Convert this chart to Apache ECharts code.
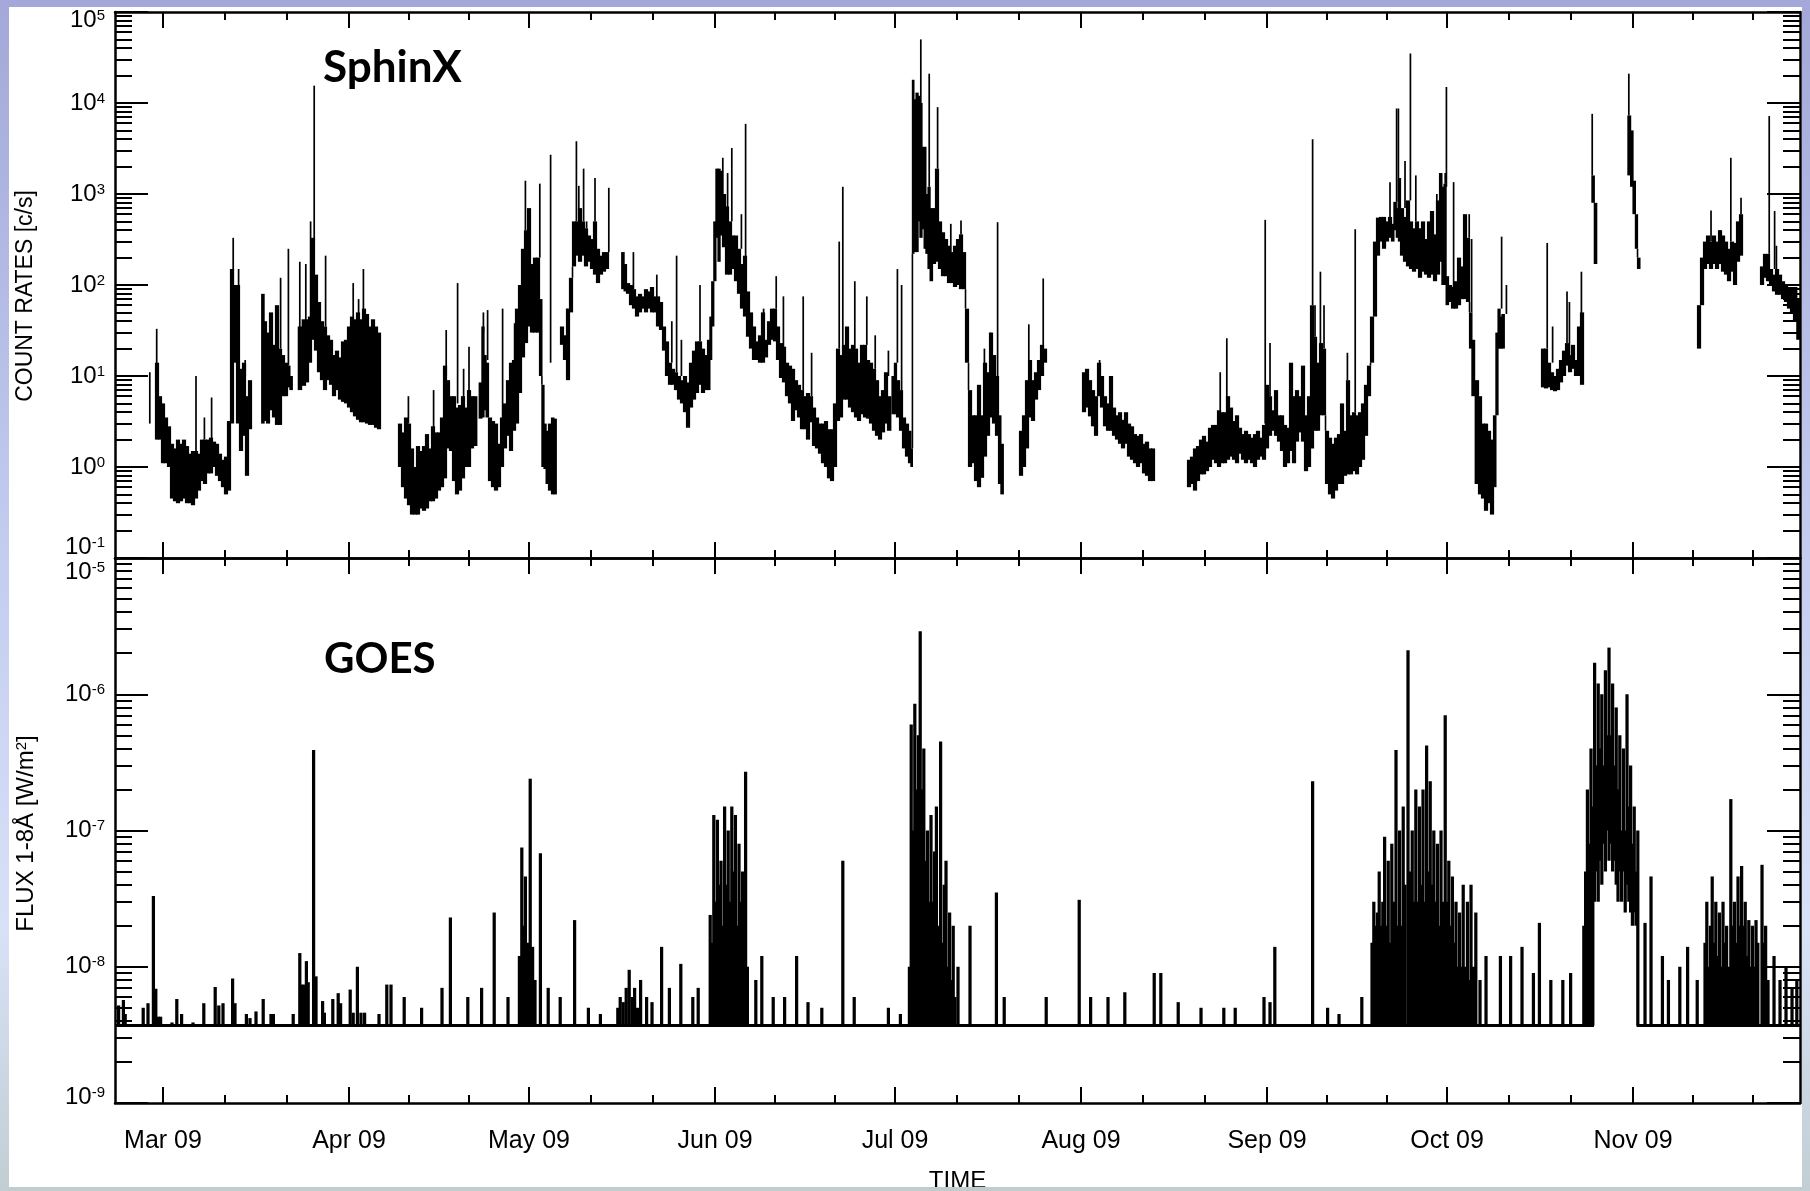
<!DOCTYPE html>
<html><head><meta charset="utf-8">
<script src="https://cdn.jsdelivr.net/npm/echarts@6/dist/echarts.min.js"></script>
<style>html,body{margin:0;padding:0;background:#fff;}#c{width:1810px;height:1191px;}</style>
</head><body><div id="c"></div>
<script>
// ---------- axis / tick data ----------
const monthStarts = [0, 31, 61, 92, 122, 153, 184, 214, 245];      // days after 2009-03-01
const monthLengths = [31, 30, 31, 30, 31, 31, 30, 31, 30];
const monthLabels = ['Mar 09', 'Apr 09', 'May 09', 'Jun 09', 'Jul 09', 'Aug 09', 'Sep 09', 'Oct 09', 'Nov 09'];
const xMin = -8, xMax = 272.83;
const sphMin = 0.1, sphMax = 1e5;
const goesMin = 1e-9, goesMax = 1e-5;

// ---------- SphinX count-rate envelope: [day, low, high] ----------
const sphA = [[-1,2.0,14],[-0.5,2.0,6],[0,1.1,5],[0.5,1.1,3.5],[1,1.0,2.8],[1.5,0.45,1.8],[2,0.42,1.6],[2.5,0.40,2.0],[3,0.42,1.8],[3.5,0.45,2.0],[4,0.40,1.7],[4.5,0.40,1.4],[5,0.38,1.5],[5.5,0.45,1.5],[6,0.55,1.4],[6.5,0.7,2.0],[7,0.65,2.0],[7.5,0.85,2.0],[8,0.85,2.1],[8.5,1.0,1.9],[9,0.8,1.8],[9.5,0.7,1.4],[10,0.6,1.2],[10.5,0.5,1.3],[11,0.55,3.2],[11.5,3,150],[12,14,100],[12.5,3,100],[13,1.5,12],[13.5,2.2,14],[14,0.8,6],[14.5,2.6,9]];
const sphB = [[16.7,3,80],[17,3.2,40],[17.5,3,30],[18,4.2,50],[18.5,3.5,22],[19,2.9,60],[19.5,2.9,20],[20,6,17],[20.5,6,14],[21,7.5,13],[21.3,7,10]];
const sphC = [[22.8,7,35],[23.5,7.8,42],[24,8.5,42],[24.5,14,45],[25,25,330],[25.5,19,130],[26,11,65],[26.5,9,40],[27,7,35],[27.5,9,28],[28,8,25],[28.5,6,17],[29,7,19],[29.5,5.5,16],[30,5.2,24],[30.5,5,25],[31,4.5,35],[31.5,4,45],[32,3.6,42],[32.5,3.3,50],[33,3.1,42],[33.5,3.1,55],[34,3,48],[34.5,2.9,35],[35,2.9,42],[35.5,2.7,35],[36,2.6,30]];
const sphD = [[39.5,1.0,3],[40,0.6,2.4],[40.5,0.45,3.5],[41,0.38,3],[41.5,0.30,1.6],[42,0.30,1.0],[42.5,0.30,1.7],[43,0.35,1.5],[43.5,0.33,1.7],[44,0.35,2.3],[44.5,0.42,1.6],[45,0.42,2.8],[45.5,0.45,2.4],[46,0.55,2.4],[46.5,0.6,3.5],[47,0.75,13],[47.5,1.6,9],[48,1.5,6],[48.5,0.7,6],[49,0.5,4.5],[49.5,0.55,4.8],[50,0.75,6],[50.5,1.0,4.5],[51,1.0,7],[51.5,1.6,6],[52,1.7,6],[53,3.4,8.5],[53.3,3.5,35],[53.7,4.2,17],[54,3.5,14],[54.5,0.7,3.5],[55,0.6,3.2],[55.5,0.55,3],[56,0.6,1.8],[56.5,1.0,3.5],[57,1.6,5],[57.5,2.2,9],[58,1.5,14],[58.5,2.5,15],[59,3,55],[59.5,6.5,100],[60,16,250],[60.5,23,400],[61,35,700],[61.5,30,170],[62,30,200],[62.5,30,200],[63,10,70],[63.3,1.0,8],[63.7,0.95,3],[64,0.65,2.5],[64.5,0.55,3],[65,0.5,3.5],[65.3,0.5,3.4]];
const sphE = [[66.5,22,35],[67,15,28],[67.5,9,55],[68,50,120],[68.5,160,500],[69,210,500],[69.5,180,700],[70,210,500],[70.5,160,420],[71,180,350],[71.5,150,320],[72,130,500],[72.5,105,250],[73,130,210],[73.5,140,230],[74,150,230]];
const sphF = [[76.7,90,230],[77,85,170],[77.5,80,105],[78,60,100],[78.5,55,90],[79,45,75],[79.5,50,80],[80,55,75],[80.5,50,90],[81,55,85],[81.5,50,95],[82,50,75],[82.5,35,75],[83,32,65],[83.5,19,35],[84,10,24],[84.5,8,14],[85,8,12],[85.5,7,11],[86,5.5,10],[86.5,5,9],[87,4,10],[87.5,2.7,8.5],[88,4.5,14],[88.5,5.5,19],[89,6.5,24],[89.5,8,24],[90,6.5,20],[90.5,7,17],[91,7,25],[91.3,15,45],[91.6,35,110],[92,110,500],[92.3,330,1900],[92.7,180,1900],[93,350,1800],[93.5,260,1000],[94,130,730],[94.5,130,500],[95,150,350],[95.5,110,350],[96,80,250],[96.5,55,170],[97,45,210],[97.5,27,85],[98,20,50],[98.5,15,35],[99,15,24],[99.5,14,28],[100,14,50],[100.5,16,25],[101,22,40],[101.5,25,55],[102,24,55],[102.5,15,35],[103,9.5,23],[103.5,8.5,21],[104,6,14],[104.5,5,13],[105,3.2,12],[105.5,4.2,9],[106,3.5,8],[106.5,2.6,7],[107,2.6,6],[107.5,2.0,6.5],[108,3.1,6],[108.5,1.7,4.5],[109,1.6,3.5],[109.5,1.4,3],[110,1.1,3],[110.5,1.0,3.2],[111,0.75,2.6],[111.5,0.7,2.6],[112,1.0,5],[112.5,3.2,20],[113,3.5,17],[113.5,5.5,22],[114,5.5,35],[114.5,4.5,20],[115,4,22],[115.5,3.5,20],[116,3.2,14],[116.5,3.8,22],[117,3.5,22],[117.5,3.4,15],[118,3,14],[118.5,2.5,12],[119,2.2,9],[119.5,2.0,6],[120,2.4,7],[120.5,3.0,11],[121,2.5,6],[121.8,3.8,10],[122,3.8,14],[122.5,3.5,9],[123,2.5,7],[123.5,1.6,3.5],[124,1.3,3],[124.5,1.1,2.5],[124.8,1.0,1.6],[125,220,18000],[125.3,230,11000],[125.7,230,13000],[126,500,12000],[126.3,330,10000],[126.7,410,3300],[127,250,3300],[127.3,220,1000],[127.7,150,1200],[128,110,700],[128.5,170,700],[129,180,1900],[129.5,150,500],[130,125,380],[130.5,125,320],[131,105,270],[131.5,105,230],[132,95,270],[132.5,100,320],[133,90,360],[133.5,90,230],[134,14,55],[134.5,1.0,7],[135,1.1,3.7],[135.5,0.7,3.7],[136,0.6,8],[136.5,0.76,3.7],[137,1.3,14],[137.5,2.2,11],[138,3.5,30],[138.5,3,17],[139,2.2,10],[139.5,0.65,3.7],[139.8,0.5,1.8]];
const sphG = [[143,0.8,2.5],[143.5,1.0,3.7],[144,1.6,9],[144.5,3.5,15],[145,3.2,9],[145.5,5.5,11],[146,7,15],[146.5,10,22],[147,14,20]];
const sphH = [[153.5,4,11],[154,4.5,12],[154.5,3.6,9],[155,2.8,7],[155.5,2.2,6],[156,6,14],[156.5,4.5,10],[157,2.8,6],[157.5,2.5,5],[158,2.5,10],[158.5,2.2,4.5],[159,2,3.7],[159.5,1.8,4],[160,1.6,3.3],[160.5,1.8,4],[161,1.3,3],[161.5,1.2,2.8],[162,1.1,2.3],[162.5,1.0,2.2],[163,1.1,2.3],[163.5,0.85,1.8],[164,0.8,1.9],[164.5,0.7,1.6],[165,0.7,1.6]];
const sphI = [[171,0.6,1.2],[171.5,0.65,1.3],[172,0.55,1.6],[172.5,0.7,1.7],[173,0.83,2],[173.5,0.83,2.2],[174,0.9,1.9],[174.5,1.0,2.7],[175,1.2,2.9],[175.5,1.1,2.9],[176,1.0,4.2],[176.5,1.1,4],[177,1.1,4],[177.5,1.2,6],[178,1.3,4.5],[178.5,1.2,3.2],[179,1.1,3.7],[179.5,1.4,2.7],[180,1.2,2.3],[180.5,1.1,2.5],[181,1.2,2.3],[181.5,1.1,2.1],[182,1.0,2.3],[182.5,1.2,2.5],[183,1.3,2.1],[183.5,1.2,2.9],[184,1.6,8],[184.5,2.2,6],[185,2.5,4.2],[185.5,2.2,7],[186,1.9,3.7],[186.5,1.5,3.7],[187,1.0,2.9],[187.5,1.1,2.7],[188,1.5,14],[188.5,1.1,6],[189,1.9,7],[189.5,2.4,6],[190,1.9,13],[190.5,0.9,3.7],[191,1.0,6],[191.5,1.6,60],[192,2.5,27],[192.5,2.5,14],[193,3.7,23],[193.5,3.7,20],[194,0.65,2.5],[194.5,0.5,2.1],[195,0.45,1.8],[195.5,0.55,2.1],[196,0.65,2.3],[196.5,0.65,5],[197,0.8,2.5],[197.5,0.83,9],[198,0.83,3.7],[198.5,0.9,4],[199,0.83,3.7],[199.5,1.0,4],[200,1.2,5],[200.5,2.2,8],[201,6,13],[201.5,14,45],[202,45,300],[202.5,210,550],[203,300,560],[203.5,250,560],[204,300,500],[204.5,330,560],[205,300,470],[205.3,400,820],[205.8,330,700],[206,300,1500],[206.5,210,700],[207,180,560],[207.5,160,850],[208,150,500],[208.5,140,420],[209,150,500],[209.5,120,420],[210,140,500],[210.5,130,320],[211,120,500],[211.5,130,650],[212,110,360],[212.5,130,850],[213,180,1700],[213.3,100,1200],[213.7,100,1300],[214,60,125],[214.5,65,100],[215,55,95],[215.5,55,110],[216,60,200],[216.5,70,160],[217,70,600],[217.5,65,330],[218,20,50],[218.3,6,25],[219,0.65,9],[219.5,0.5,6],[220,0.45,3],[220.5,0.33,3],[221,0.4,2.5],[221.5,0.3,2],[222,0.6,3.7],[222.3,3.7,30],[222.7,20,55],[223,20,45],[223.3,20,48]];
const sphJ = [[230,7.5,20],[230.5,7.3,20],[231,7.5,14],[231.5,7,11],[232,6.8,10],[232.5,7,12],[233,8.5,15],[233.5,10,19],[234,13,23],[234.5,11,17],[235,12,22],[235.5,10,15],[236,10,35],[236.5,8,50]];
const sphK = [[238.4,800,1600],[238.7,170,800]];
const sphL = [[244.4,1600,7300],[244.8,1200,5000],[245.2,600,1400],[245.6,250,600],[245.9,150,200]];
const sphM = [[256,20,60],[256.5,60,200],[257,150,300],[257.5,170,350],[258,150,300],[258.5,170,350],[259,150,300],[259.5,170,400],[260,140,350],[260.5,130,300],[261,110,250],[261.5,140,300],[262,100,290],[262.5,180,500],[263,210,600]];
const sphN = [[266.5,100,160],[267,120,220],[267.5,110,220],[268,100,150],[268.5,85,130],[269,78,150],[269.5,78,130],[270,70,110],[270.5,65,100],[271,55,95],[271.5,50,95],[272,40,95],[272.6,25,70]];

// ---------- SphinX flare spikes: [day, from, peak] ----------
const sphSpikes = [[-2.2,3,11],[-1.05,8,33],[5.5,1.5,10],[6.9,2,3.5],[8.1,2,5.8],[11.7,100,330],[12.6,90,150],[13.7,10,15],[19.6,20,120],[20.9,13,250],[22.8,30,180],[23.8,40,170],[24.6,40,500],[25.2,300,15500],[27.1,35,210],[31.7,40,105],[32.6,40,70],[33.4,40,150],[40.9,3,6],[45.1,2.5,7],[47.2,10,32],[49.1,5,105],[50.1,5,12],[51,6,21],[53.4,30,50],[54.1,15,53],[56.6,3,55],[58.6,14,38],[60.4,400,1400],[62.8,200,1300],[64.6,14,2700],[67.4,30,55],[68.9,500,3800],[69.3,500,1230],[70.1,500,1900],[70.6,420,500],[72,500,1500],[74.3,230,1170],[78.4,90,230],[82.3,70,130],[84.8,14,40],[85.6,11,210],[86.4,10,25],[89.5,24,100],[93.3,1000,2500],[94.1,700,1700],[94.8,500,3200],[96.4,250,600],[97.1,200,5900],[100.1,40,55],[102.2,55,125],[103.4,20,75],[106.7,7,75],[108.1,6,18],[112.7,20,300],[113.3,17,1200],[115.3,20,110],[117.3,22,75],[118.7,12,28],[120.9,10,19],[122.4,14,150],[123.1,7,100],[126.3,10000,50000],[127.7,1200,21000],[129.1,1900,9000],[131.3,230,470],[133,360,510],[136.9,8,20],[137.9,10,30],[139.1,10,490],[144.3,15,37],[146.7,20,118],[156.1,10,15],[158.1,6,10],[176.2,4,11],[177.3,4,26],[183.7,3,520],[184.5,6,23],[191.6,60,4000],[192,27,60],[192.9,14,140],[193.5,20,60],[197.4,9,18],[198.7,4,410],[204.5,560,1350],[205.6,820,8700],[205.9,700,8700],[207,700,2300],[207.9,850,35000],[208.8,500,1600],[212.3,360,1000],[213.7,1300,1700],[213.9,1200,15000],[215.1,95,1350],[216.9,160,300],[217.7,330,600],[218.1,50,320],[223.1,55,340],[223.9,48,100],[230.7,20,290],[231.6,14,35],[234,23,85],[234.4,17,65],[236.4,35,140],[238.2,1600,7600],[244.3,7300,21000],[258,300,660],[259.5,350,400],[261.3,300,2500],[263,600,910],[267.7,220,7200],[268.6,150,650],[268.9,150,270]];

// ---------- GOES 1-8 A flux: [day, peak, low(optional, default = floor)] ----------
const goesFloor = 3.7e-9;
const goesFloorSpans = [[-8, 238.5], [245.6, 272.83]];
const goesMar = [[-7.4,5.2e-9],[-6.6,5.7e-9],[-6.3,4.5e-9],[-3.3,5e-9],[-2.5,5.4e-9],[-1.6,3.3e-8],[-1.2,6.9e-9],[-0.8,4.3e-9],[-0.4,4.3e-9],[1.5,3.9e-9],[2.3,5.8e-9],[3.1,4.5e-9],[5.0,3.9e-9],[6.8,5.4e-9],[8.7,7.1e-9],[9.3,5.2e-9],[10,5.4e-9],[11.6,8.2e-9],[12.0,5.4e-9],[13.9,4.5e-9],[14.5,4.2e-9],[15.5,4.7e-9],[16.7,5.8e-9],[18,4.5e-9],[18.4,4.5e-9],[21.7,4.5e-9],[22.8,1.26e-8],[23.1,7.4e-9],[23.5,7.4e-9],[23.9,1.1e-8],[24.2,7.7e-9],[25.1,3.9e-7],[25.5,8.5e-9],[26.6,5.6e-9],[26.9,4.6e-9],[28.3,5.8e-9],[29.2,6.4e-9],[29.6,5.4e-9]];
const goesApr = [[31.2,6.8e-9],[31.7,4.6e-9],[32.4,1e-8],[33,4.6e-9],[33.6,4.6e-9],[36,4.5e-9],[37.3,7.4e-9],[38,7.4e-9],[40.2,6e-9],[43.1,5e-9],[46.5,7e-9],[47.9,2.3e-8],[50.8,6e-9],[53.1,7e-9],[55.2,2.5e-8],[57.5,6e-9],[59.4,1.2e-8],[59.8,7.5e-8],[60.1,2e-8],[60.4,4.6e-8],[60.8,1.5e-8]];
const goesMay = [[61.2,2.4e-7],[61.6,1.4e-8],[62.0,8e-9],[62.9,6.8e-8],[64.2,7e-9],[66.2,6e-9],[68.6,2.2e-8],[70.9,5e-9],[72.9,4.5e-9],[75.8,5e-9],[76.2,6e-9],[76.7,5.5e-9],[77.2,7e-9],[77.7,9.5e-9],[78.2,6e-9],[78.6,7e-9],[79.1,5e-9],[79.6,8e-9],[80.6,6e-9],[81.5,5.5e-9],[83.1,1.4e-8],[84.4,7e-9],[86.3,1.05e-8],[88.3,6e-9],[89.2,7e-9]];
const goesJun = [[91.2,2.4e-8],[91.5,1.5e-8],[91.8,1.3e-7],[92.1,3e-8],[92.4,1.2e-7],[92.7,4e-8],[93.0,6e-8],[93.3,2e-8],[93.6,1.5e-7],[93.9,4e-8],[94.2,1e-7],[94.5,3e-8],[94.8,1.5e-7],[95.1,5e-8],[95.4,1.3e-7],[95.7,2e-8],[96.0,8e-8],[96.3,3e-8],[96.6,5e-8],[96.9,1.5e-8],[97.1,2.7e-7],[97.4,1e-8],[98.8,8e-9],[99.8,1.2e-8],[101.7,6e-9],[103.6,6e-9],[105.6,1.2e-8],[107.5,5.5e-9],[109.8,5e-9],[113.3,6e-8],[115.2,6e-9],[120.9,5e-9]];
const goesJul = [[122.9,4.5e-9],[124.4,1e-8],[124.7,6e-7],[125.0,1e-7],[125.3,8.5e-7],[125.6,2e-7],[125.9,5e-7],[126.2,2.9e-6],[126.5,2e-7],[126.8,4e-7],[127.1,6e-8],[127.4,1e-7],[127.7,3e-8],[128.0,1.3e-7],[128.3,3e-8],[128.6,7e-8],[128.9,1.5e-7],[129.2,2e-8],[129.6,4.5e-7],[129.9,1.5e-8],[130.2,4e-8],[130.5,6e-8],[130.8,1e-8],[131.1,2.5e-8],[131.4,8e-9],[131.7,2e-8],[132.0,6e-9],[132.5,1e-8],[134.5,2e-8],[138.9,3.5e-8],[140.2,6e-9]];
const goesAugSep = [[147.2,6e-9],[152.7,3.1e-8],[154.6,6e-9],[157.5,6e-9],[160.3,6.5e-9],[165.2,9e-9],[166.3,9e-9],[169.2,5.5e-9],[173,5e-9],[176.8,5e-9],[178.7,5e-9],[183.5,6e-9],[184.5,5.5e-9],[185.3,1.4e-8],[191.6,2.3e-7],[194.1,5e-9],[196,4.5e-9],[199.8,6e-9]];
const goesOct = [[201.5,1.5e-8],[201.8,3e-8],[202.1,2e-8],[202.4,2.5e-8],[202.7,5e-8],[203.0,2e-8],[203.3,3e-8],[203.6,9e-8],[203.9,2e-8],[204.2,6e-8],[204.5,1.5e-8],[204.8,8e-8],[205.1,3e-8],[205.5,3.9e-7],[205.8,2e-8],[206.1,1e-7],[206.4,2e-8],[206.7,1.5e-7],[207.0,4e-8],[207.5,2.1e-6],[207.9,5e-8],[208.2,1e-7],[208.5,3e-8],[208.8,2e-7],[209.1,3e-8],[209.4,1.5e-7],[209.7,4e-8],[210.0,2e-7],[210.3,3e-8],[210.6,4.2e-7],[210.9,5e-8],[211.2,2.3e-7],[211.5,4e-8],[211.8,1e-7],[212.1,3e-8],[212.4,8e-8],[212.7,2e-8],[213.0,1e-7],[213.3,3e-8],[213.7,7e-7],[214.0,3e-8],[214.3,6e-8],[214.6,2e-8],[214.9,4.6e-8],[215.2,1.5e-8],[215.5,3e-8],[215.8,1e-8],[216.1,2.5e-8],[216.4,1e-8],[216.7,4e-8],[217.0,1e-8],[217.4,3e-8],[217.7,8e-9],[218.0,4e-8],[218.4,1e-8],[218.8,2.5e-8],[219.5,8e-9],[220.5,1.2e-8],[222.9,1.2e-8],[224.6,1.2e-8],[226.5,1.4e-8],[228.4,9e-9],[229.4,2.1e-8],[231.3,8e-9],[233.3,8e-9],[234.6,9e-9]];
const goesOctNov = [[236.8,2e-8],[237.1,5e-8],[237.4,2e-7],[237.7,8e-8],[238.0,4e-7],[238.3,1.5e-7],[238.6,1.7e-6,3e-8],[238.9,3e-7,5e-8],[239.2,1.2e-6,3e-8],[239.5,4e-7,6e-8],[239.8,1e-6,4e-8],[240.1,3e-7,8e-8],[240.4,1.5e-6,5e-8],[240.7,5e-7,1e-7],[241.0,2.2e-6,6e-8],[241.3,5e-7,8e-8],[241.6,1.2e-6,5e-8],[241.9,3e-7,6e-8],[242.2,8e-7,4e-8],[242.5,2e-7,3e-8],[242.8,5e-7,5e-8],[243.1,1e-7,3e-8],[243.4,4e-7,5e-8],[243.7,1e-7,2.5e-8],[244.0,1e-6,4e-8],[244.3,1.5e-7,3e-8],[244.6,3e-7,2.5e-8],[244.9,8e-8,2e-8],[245.2,1.5e-7,2.5e-8],[245.5,5e-8,2e-8],[245.8,1e-7]];
const goesNov = [[247,2.1e-8],[248,4.6e-8],[249.9,1.2e-8],[250.9,8e-9],[252.8,1e-8],[254.1,1.4e-8],[255.7,8e-9],[257.0,1.5e-8],[257.3,3e-8],[257.6,1e-8],[257.9,2e-8],[258.2,4.6e-8],[258.5,1.5e-8],[258.8,3e-8],[259.1,1.2e-8],[259.4,2.5e-8],[259.7,1e-8],[260.0,3e-8],[260.3,1.5e-8],[260.6,2e-8],[260.9,1e-8],[261.3,1.7e-7],[261.6,2e-8],[261.9,3e-8],[262.2,1.5e-8],[262.5,4.6e-8],[262.8,2e-8],[263.1,5.5e-8],[263.4,2e-8],[263.7,3e-8],[264.0,1.2e-8],[264.3,2.2e-8],[264.6,1e-8],[264.9,2e-8],[265.2,1e-8],[265.5,2.2e-8],[265.8,1.5e-8],[266.5,5.6e-8],[266.8,1.5e-8],[267.1,2e-8],[267.5,8e-9],[268.5,1.2e-8],[269.5,8e-9],[270.5,1e-8],[271.5,7e-9],[272.3,8e-9]];

// ---------- build ----------
const FONT = '"Liberation Sans", Arial, Helvetica, sans-serif';
const minorDays = [];
monthStarts.forEach((s, i) => { minorDays.push(s + monthLengths[i] / 3, s + 2 * monthLengths[i] / 3); });
function minorLogs(lo, hi) { const out = []; for (let k = lo; k < hi; k++) for (let m = 2; m <= 9; m++) out.push(k + Math.log10(m)); return out; }

function bandData(segs) {
  const out = [];
  segs.forEach(seg => seg.forEach((r, i) => {
    const p = seg[i - 1], n = seg[i + 1];
    const dl = Math.min(p ? (r[0] - p[0]) / 2 : 0.25, 0.3);
    const dr = Math.min(n ? (n[0] - r[0]) / 2 : 0.25, 0.3);
    out.push([r[0], r[1], r[2], dl, dr, p ? p[1] : -1, p ? p[2] : -1]);
  }));
  return out;
}
const sphBand = bandData([sphA, sphB, sphC, sphD, sphE, sphF, sphG, sphH, sphI, sphJ, sphK, sphL, sphM, sphN]);
const goesRows = [].concat(goesMar, goesApr, goesMay, goesJun, goesJul, goesAugSep, goesOct, goesOctNov, goesNov)
  .map(r => [r[0], r[1], r.length > 2 ? r[2] : goesFloor]);

function xAx(g, pos, vals, len, line, extra) {
  return Object.assign({
    type: 'value', gridIndex: g, position: pos, min: xMin, max: xMax,
    axisLine: { show: line, onZero: false, lineStyle: { color: '#000', width: 2.5 } },
    axisTick: { show: true, inside: true, length: len, customValues: vals, lineStyle: { color: '#000', width: 2 } },
    axisLabel: { show: false }, splitLine: { show: false }
  }, extra || {});
}
function supLabel(min, max, padLow, padHigh) {
  return {
    show: true, margin: 10, color: '#000',
    formatter: v => {
      const e = Math.round(Math.log10(v));
      const k = (e === Math.round(Math.log10(min))) ? 'l' : (e === Math.round(Math.log10(max)) ? 'h' : '');
      return '{b' + k + '|10}{s' + k + '|' + e + '}';
    },
    rich: {
      b: { fontSize: 24, fontFamily: FONT, color: '#000' },
      s: { fontSize: 15, fontFamily: FONT, color: '#000', verticalAlign: 'top', padding: [0, 0, 6, 0] },
      bl: { fontSize: 24, fontFamily: FONT, color: '#000', padding: [0, 0, padLow, 0] },
      sl: { fontSize: 15, fontFamily: FONT, color: '#000', verticalAlign: 'top', padding: [0, 0, padLow + 6, 0] },
      bh: { fontSize: 24, fontFamily: FONT, color: '#000', padding: [padHigh, 0, 0, 0] },
      sh: { fontSize: 15, fontFamily: FONT, color: '#000', verticalAlign: 'top', padding: [padHigh, 0, 6, 0] }
    }
  };
}
function yLog(g, pos, min, max, extra) {
  return Object.assign({
    type: 'log', logBase: 10, gridIndex: g, position: pos, min: min, max: max,
    axisLine: { show: true, onZero: false, lineStyle: { color: '#000', width: 2.5 } },
    axisTick: { show: true, inside: true, length: 33, lineStyle: { color: '#000', width: 2 } },
    axisLabel: { show: false }, splitLine: { show: false }
  }, extra || {});
}
function yMinor(g, pos, min, max) {
  const a = Math.round(Math.log10(min)), b = Math.round(Math.log10(max));
  return {
    type: 'value', gridIndex: g, position: pos, min: a, max: b,
    axisLine: { show: false, onZero: false }, axisLabel: { show: false }, splitLine: { show: false },
    axisTick: { show: true, inside: true, length: 17, customValues: minorLogs(a, b), lineStyle: { color: '#000', width: 2 } }
  };
}

const option = {
  animation: false,
  backgroundColor: '#ffffff',
  grid: [
    { left: 115, right: 10, top: 12, height: 546, outerBoundsMode: 'none', containLabel: false },
    { left: 115, right: 10, top: 558, height: 545, outerBoundsMode: 'none', containLabel: false }
  ],
  xAxis: [
    xAx(0, 'bottom', monthStarts, 16, true),
    xAx(0, 'bottom', minorDays, 8, false),
    xAx(0, 'top', monthStarts, 16, true),
    xAx(0, 'top', minorDays, 8, false),
    xAx(1, 'bottom', monthStarts, 16, true, {
      axisLabel: { show: true, customValues: monthStarts, margin: 26, fontSize: 25, fontFamily: FONT, color: '#000',
        formatter: v => { let best = 0; monthStarts.forEach((s, i) => { if (Math.abs(s - v) < Math.abs(monthStarts[best] - v)) best = i; }); return monthLabels[best]; } },
      name: 'TIME', nameLocation: 'middle', nameGap: 66, nameTextStyle: { fontSize: 24, fontFamily: FONT, color: '#000' }
    }),
    xAx(1, 'bottom', minorDays, 8, false),
    xAx(1, 'top', monthStarts, 16, true),
    xAx(1, 'top', minorDays, 8, false)
  ],
  yAxis: [
    yLog(0, 'left', sphMin, sphMax, { axisLabel: supLabel(sphMin, sphMax, 22, 16), name: 'COUNT RATES [c/s]', nameLocation: 'middle', nameGap: 78,
      nameTextStyle: { fontSize: 23, fontFamily: FONT, color: '#000', padding: [0, 22, 0, 0] } }),
    yMinor(0, 'left', sphMin, sphMax),
    yLog(0, 'right', sphMin, sphMax),
    yMinor(0, 'right', sphMin, sphMax),
    yLog(1, 'left', goesMin, goesMax, { axisLabel: supLabel(goesMin, goesMax, 12, 28), name: 'FLUX 1-8Å [W/m{sup|2}]', nameLocation: 'middle', nameGap: 77,
      nameTextStyle: { fontSize: 24, fontFamily: FONT, color: '#000', padding: [0, 6, 0, 0], rich: { sup: { fontSize: 15, fontFamily: FONT, color: '#000', verticalAlign: 'top' } } } }),
    yMinor(1, 'left', goesMin, goesMax),
    yLog(1, 'right', goesMin, goesMax),
    yMinor(1, 'right', goesMin, goesMax)
  ],
  graphic: [
    { type: 'text', left: 323, top: 46, z: 50, style: { text: 'SphinX', font: 'bold 44px Lato, "Open Sans", sans-serif', fill: '#000' } },
    { type: 'text', left: 324, top: 638, z: 50, style: { text: 'GOES', font: 'bold 42px Lato, "Open Sans", sans-serif', fill: '#000' } },
    { type: 'rect', z: 100, shape: { x: 0, y: 0, width: 1810, height: 7 }, style: { fill: '#a3a8d8' } },
    { type: 'rect', z: 100, shape: { x: 0, y: 1187, width: 1810, height: 4 }, style: { fill: '#c0cdcf' } },
    { type: 'rect', z: 100, shape: { x: 0, y: 0, width: 9, height: 1191 },
      style: { fill: { type: 'linear', x: 0, y: 0, x2: 0, y2: 1, colorStops: [{ offset: 0, color: '#a3a8d8' }, { offset: 0.45, color: '#c3cbef' }, { offset: 0.78, color: '#d8e1f7' }, { offset: 1, color: '#c2ced3' }] } } },
    { type: 'rect', z: 100, shape: { x: 1802, y: 0, width: 8, height: 1191 },
      style: { fill: { type: 'linear', x: 0, y: 0, x2: 0, y2: 1, colorStops: [{ offset: 0, color: '#a3a8d8' }, { offset: 0.45, color: '#c3cbef' }, { offset: 0.78, color: '#d8e1f7' }, { offset: 1, color: '#c2ced3' }] } } }
  ],
  series: [
    {
      type: 'custom', name: 'SphinX band', xAxisIndex: 0, yAxisIndex: 0, clip: true, data: sphBand,
      renderItem: (params, api) => {
        const t = api.value(0), lo = api.value(1), hi = api.value(2), dl = api.value(3), dr = api.value(4);
        const pl = api.value(5), ph = api.value(6);
        const a = api.coord([t - dl, hi]), b = api.coord([t + dr, lo]);
        const ch = [{ type: 'rect', shape: { x: a[0] - 0.6, y: a[1], width: Math.max(b[0] - a[0], 1) + 1.2, height: Math.max(b[1] - a[1], 1.5) }, style: { fill: '#000' } }];
        if (pl > 0) {
          let y1 = null, y2 = null;
          if (lo > ph) { y1 = ph; y2 = lo; } else if (hi < pl) { y1 = hi; y2 = pl; }
          if (y1 !== null) {
            const c1 = api.coord([t - dl, y1]), c2 = api.coord([t - dl, y2]);
            ch.push({ type: 'line', shape: { x1: c1[0], y1: c1[1], x2: c2[0], y2: c2[1] }, style: { stroke: '#000', lineWidth: 1.6 } });
          }
        }
        return { type: 'group', children: ch };
      }
    },
    {
      type: 'custom', name: 'SphinX flares', xAxisIndex: 0, yAxisIndex: 0, clip: true, data: sphSpikes,
      renderItem: (params, api) => {
        const a = api.coord([api.value(0), api.value(1)]), b = api.coord([api.value(0), api.value(2)]);
        return { type: 'line', shape: { x1: a[0], y1: a[1], x2: b[0], y2: b[1] }, style: { stroke: '#000', lineWidth: 1.7 } };
      }
    },
    {
      type: 'custom', name: 'GOES floor', xAxisIndex: 4, yAxisIndex: 4, clip: true, data: goesFloorSpans,
      renderItem: (params, api) => {
        const a = api.coord([api.value(0), goesFloor]), b = api.coord([api.value(1), goesFloor]);
        return { type: 'line', shape: { x1: a[0], y1: a[1], x2: b[0], y2: b[1] }, style: { stroke: '#000', lineWidth: 3 } };
      }
    },
    {
      type: 'custom', name: 'GOES', xAxisIndex: 4, yAxisIndex: 4, clip: true, data: goesRows,
      renderItem: (params, api) => {
        const t = api.value(0);
        const a = api.coord([t - 0.27, api.value(1)]), b = api.coord([t + 0.27, api.value(2)]);
        return { type: 'rect', shape: { x: a[0], y: a[1], width: b[0] - a[0], height: Math.max(b[1] - a[1], 2) }, style: { fill: '#000' } };
      }
    }
  ]
};
const chart = echarts.init(document.getElementById('c'), null, { renderer: 'canvas' });
chart.setOption(option);
</script>
</body></html>
